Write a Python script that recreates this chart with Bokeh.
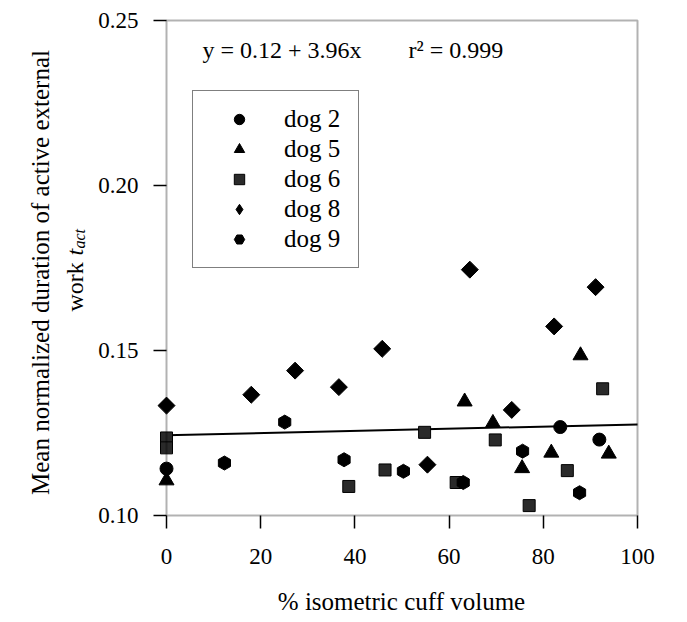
import numpy as np
from bokeh.plotting import figure
from bokeh.models import Range1d, Label, Legend, LegendItem, FixedTicker, BoxAnnotation, NumeralTickFormatter
from bokeh.embed import file_html
from bokeh.resources import INLINE

# ---------------- data ----------------
dog2_x = [0, 83.6, 91.9]
dog2_y = [0.1142, 0.1268, 0.1230]
dog5_x = [0, 63.3, 69.3, 75.5, 81.7, 87.9, 93.9]
dog5_y = [0.1106, 0.1345, 0.1280, 0.1143, 0.1190, 0.1485, 0.1187]
dog6_x = [0, 0, 38.7, 46.4, 54.8, 61.5, 69.8, 77.0, 85.1, 92.6]
dog6_y = [0.1235, 0.1205, 0.1088, 0.1138, 0.1252, 0.1100, 0.1229, 0.1030, 0.1136, 0.1384]
dog8_x = [0, 18.0, 27.3, 36.6, 45.8, 55.4, 64.4, 73.3, 82.3, 91.1]
dog8_y = [0.1333, 0.1366, 0.1439, 0.1389, 0.1505, 0.1154, 0.1745, 0.1320, 0.1573, 0.1692]
dog9_x = [12.3, 25.1, 37.7, 50.3, 63.0, 75.6, 87.7]
dog9_y = [0.1159, 0.1283, 0.1169, 0.1134, 0.1100, 0.1195, 0.1069]
fit_x = [0, 100]
fit_y = [0.1243, 0.1276]
x_ticks = [0, 20, 40, 60, 80, 100]
y_ticks = [0.10, 0.15, 0.20, 0.25]
series_labels = ["dog 2", "dog 5", "dog 6", "dog 8", "dog 9"]

FONT = "Liberation Serif"
W, H = 687, 622
# plot box: x 0..100 -> page px 166..637, y 0.25..0.10 -> page px 20..515
BX0, BX1, BY0, BY1 = 166, 637, 20, 515
SX = (BX1 - BX0) / 100.0
SY = (BY1 - BY0) / 0.15
XMIN = -BX0 / SX
XMAX = 100 + (W - BX1) / SX
YMAX = 0.25 + BY0 / SY
YMIN = 0.10 - (H - BY1) / SY

p = figure(width=W, height=H, output_backend="svg", toolbar_location=None,
           x_range=Range1d(XMIN, XMAX), y_range=Range1d(YMIN, YMAX),
           min_border_left=0, min_border_right=0, min_border_top=0, min_border_bottom=0,
           background_fill_color="white", border_fill_color="white")
p.outline_line_color = None
p.xgrid.visible = False
p.ygrid.visible = False

def px_x(X):
    return (X - BX0) / SX
def px_y(Y):
    return 0.25 - (Y - BY0) / SY

for ax in (p.xaxis[0], p.yaxis[0]):
    ax.axis_line_color = None
    ax.major_tick_line_width = 1.5
    ax.major_tick_line_color = "black"
    ax.major_tick_out = 13
    ax.major_tick_in = 0
    ax.minor_tick_line_color = None
    ax.major_label_text_font = FONT
    ax.major_label_text_font_size = "23px"
    ax.major_label_text_color = "black"

p.xaxis.ticker = FixedTicker(ticks=x_ticks)
p.xaxis.fixed_location = 0.10
p.xaxis.major_label_standoff = 20

p.yaxis.ticker = FixedTicker(ticks=y_ticks)
p.yaxis.formatter = NumeralTickFormatter(format="0.00")
p.yaxis.fixed_location = 0
p.yaxis.major_label_standoff = 15

# plot box (left edge = y axis line, bottom edge = x axis line)
p.add_layout(BoxAnnotation(left=0, right=100, bottom=0.10, top=0.25,
                           fill_color=None, line_color="black", line_width=2))

# regression line
p.line(fit_x, fit_y, line_color="black", line_width=2)

r2 = p.scatter(dog2_x, dog2_y, marker="circle", size=13, fill_color="black", line_color="black")
r5 = p.scatter(dog5_x, dog5_y, marker="triangle", size=15, fill_color="black", line_color="black")
r6 = p.scatter(dog6_x, dog6_y, marker="square", size=12, fill_color="#2a2a2a", line_color="black")
r8 = p.scatter(dog8_x, dog8_y, marker="square", angle=np.pi / 4, size=12, fill_color="black", line_color="black")
r9 = p.scatter(dog9_x, dog9_y, marker="hex", angle=np.pi / 6, size=14, fill_color="black", line_color="black")
# hidden proxy so that the legend shows a diamond for dog 8
r8_leg = p.scatter(dog8_x, dog8_y, marker="diamond", size=20, fill_color="black", line_color="black", visible=False)

legend = Legend(items=[LegendItem(label=l, renderers=[r]) for l, r in
                       zip(series_labels, [r2, r5, r6, r8_leg, r9])],
                location=(192, H - 268), orientation="vertical",
                label_text_font=FONT, label_text_font_size="25px", label_text_color="black",
                glyph_width=64, glyph_height=26, label_height=26, label_width=60,
                label_standoff=13, padding=14, spacing=2, margin=0,
                border_line_color="black", border_line_width=1.5,
                background_fill_color="white", background_fill_alpha=1.0)
p.add_layout(legend, "center")

# equation text
p.add_layout(Label(x=px_x(202), y=px_y(49), text="y = 0.12 + 3.96x",
                   text_font=FONT, text_font_size="24px", text_color="black",
                   text_align="left", text_baseline="alphabetic"))
p.add_layout(Label(x=px_x(408), y=px_y(49), text="r² = 0.999",
                   text_font=FONT, text_font_size="24px", text_color="black",
                   text_align="left", text_baseline="alphabetic"))

# x axis title
p.add_layout(Label(x=px_x(401), y=px_y(601), text="% isometric cuff volume",
                   text_font=FONT, text_font_size="25px", text_color="black",
                   text_align="center", text_baseline="middle"))

# y axis title, two rotated lines
p.add_layout(Label(x=px_x(40), y=px_y(272), text="Mean normalized duration of active external",
                   angle=np.pi / 2, text_font=FONT, text_font_size="25px", text_color="black",
                   text_align="center", text_baseline="middle"))

def ytxt(X, Y, text, size, style="normal"):
    p.add_layout(Label(x=px_x(X), y=px_y(Y), text=text,
                       angle=np.pi / 2, text_font=FONT, text_font_size=size,
                       text_font_style=style, text_color="black",
                       text_align="left", text_baseline="alphabetic"))

ytxt(74, 311, "work", "24px")
ytxt(74, 255, "t", "24px", "italic")
ytxt(79, 248, "act", "16px", "italic")

open("out.html", "w").write(file_html(p, INLINE))
